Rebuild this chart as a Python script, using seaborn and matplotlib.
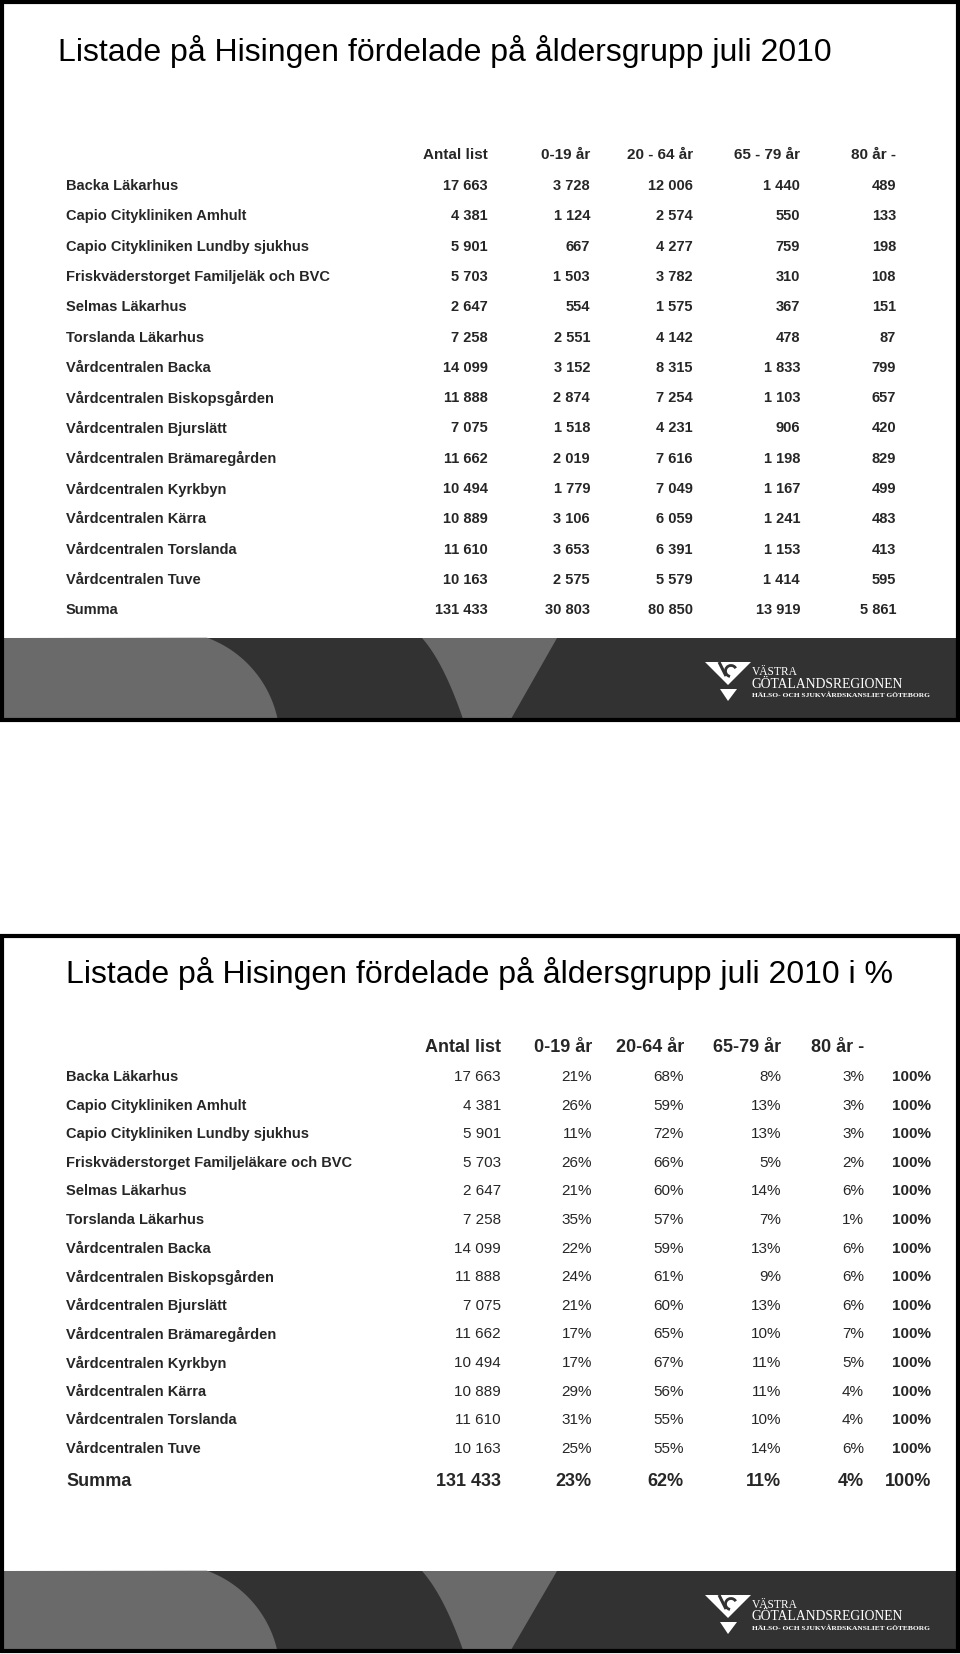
import numpy as np
import pandas as pd
import seaborn as sns
import matplotlib.pyplot as plt
from matplotlib.patches import Rectangle, Polygon, Arc

# Data

names_1 = ['Backa Läkarhus', 'Capio Citykliniken Amhult', 'Capio Citykliniken Lundby sjukhus',
           'Friskväderstorget Familjeläk och BVC', 'Selmas Läkarhus', 'Torslanda Läkarhus',
           'Vårdcentralen Backa', 'Vårdcentralen Biskopsgården', 'Vårdcentralen Bjurslätt',
           'Vårdcentralen Brämaregården', 'Vårdcentralen Kyrkbyn', 'Vårdcentralen Kärra',
           'Vårdcentralen Torslanda', 'Vårdcentralen Tuve']
names_2 = names_1[:3] + ['Friskväderstorget Familjeläkare och BVC'] + names_1[4:]

headers_1 = ['Antal list', '0-19 år', '20 - 64 år', '65 - 79 år', '80 år -']
headers_2 = ['Antal list', '0-19 år', '20-64 år', '65-79 år', '80 år -']

antal = [17663, 4381, 5901, 5703, 2647, 7258, 14099, 11888, 7075, 11662, 10494, 10889, 11610, 10163]
age_0_19 = [3728, 1124, 667, 1503, 554, 2551, 3152, 2874, 1518, 2019, 1779, 3106, 3653, 2575]
age_20_64 = [12006, 2574, 4277, 3782, 1575, 4142, 8315, 7254, 4231, 7616, 7049, 6059, 6391, 5579]
age_65_79 = [1440, 550, 759, 310, 367, 478, 1833, 1103, 906, 1198, 1167, 1241, 1153, 1414]
age_80 = [489, 133, 198, 108, 151, 87, 799, 657, 420, 829, 499, 483, 413, 595]

pct_0_19 = [21, 26, 11, 26, 21, 35, 22, 24, 21, 17, 17, 29, 31, 25]
pct_20_64 = [68, 59, 72, 66, 60, 57, 59, 61, 60, 65, 67, 56, 55, 55]
pct_65_79 = [8, 13, 13, 5, 14, 7, 13, 9, 13, 10, 11, 11, 10, 14]
pct_80 = [3, 3, 3, 2, 6, 1, 6, 6, 6, 7, 5, 4, 4, 6]
pct_summa = [23, 62, 11, 4]

counts = pd.DataFrame({'antal': antal, 'a0': age_0_19, 'a1': age_20_64,
                       'a2': age_65_79, 'a3': age_80}, index=names_1)
summa = counts.sum()


def fmt(v):
    return f'{int(v):,}'.replace(',', ' ')


sns.set_theme(style='white')
plt.rcParams['font.family'] = ['Liberation Sans', 'DejaVu Sans']

fig = plt.figure(figsize=(9.6, 16.54), dpi=100)
ax = fig.add_axes([0, 0, 1, 1])
ax.set_xlim(0, 960)
ax.set_ylim(1654, 0)
ax.axis('off')

LIGHT = '#6a6a6a'
DARK = '#323232'


def footer(top, bottom):
    h = bottom - top
    ax.add_patch(Rectangle((3, top), 954, h, color=DARK, lw=0, zorder=1))
    # left light area with curved edge
    ang = np.radians(np.linspace(-70, -12.5, 40))
    cx, cy, r = 169, top + 104, 111
    arc = np.column_stack([cx + r * np.cos(ang), cy + r * np.sin(ang)])
    pts = np.vstack([[3, top], arc, [3, bottom]])
    ax.add_patch(Polygon(pts, closed=True, color=LIGHT, lw=0, zorder=2))
    # middle light wedge
    t = np.linspace(0, 1, 30)[:, None]
    p0, c, p2 = np.array([422, top]), np.array([443.5, top + 24]), np.array([463, bottom])
    bez = (1 - t) ** 2 * p0 + 2 * (1 - t) * t * c + t ** 2 * p2
    pts = np.vstack([bez, [511, bottom], [557, top]])
    ax.add_patch(Polygon(pts, closed=True, color=LIGHT, lw=0, zorder=2))
    # logo symbol
    ax.add_patch(Polygon([[705, top + 24], [751, top + 24], [728, top + 47]],
                         color='white', lw=0, zorder=3))
    ax.plot([719, 726], [top + 24, top + 38], color=DARK, lw=2.2, zorder=4,
            solid_capstyle='butt')
    ax.add_patch(Arc((731, top + 33), 11, 11, theta1=100, theta2=330, color=DARK,
                     lw=2.0, zorder=4))
    ax.add_patch(Polygon([[720, top + 51], [737, top + 51], [728, top + 63]],
                         color='white', lw=0, zorder=3))
    serif = ['Liberation Serif', 'DejaVu Serif']
    ax.text(752, top + 34, 'VÄSTRA', color='white', fontsize=8.3, family=serif,
            va='center', zorder=5)
    ax.text(752, top + 46, 'GÖTALANDSREGIONEN', color='white', fontsize=9.8, family=serif,
            va='center', zorder=5)
    ax.text(752, top + 57, 'HÄLSO- OCH SJUKVÅRDSKANSLIET GÖTEBORG', color='white',
            fontsize=5.4, family=serif, fontweight='bold', va='center', zorder=5)


# ---------- slide 1 ----------
ax.add_patch(Rectangle((2, 2), 956, 718, fill=False, ec='black', lw=3, zorder=6))
footer(638, 719)
ax.text(58, 51, 'Listade på Hisingen fördelade på åldersgrupp juli 2010', fontsize=23,
        va='center', color='black')

col_x1 = [488, 590, 693, 800, 896]
for x, h in zip(col_x1, headers_1):
    ax.text(x, 155, h, ha='right', va='center', fontsize=11, fontweight='bold')

row_y1 = 186 + 30.3 * np.arange(len(names_1))
cols = ['antal', 'a0', 'a1', 'a2', 'a3']
for y, name in zip(row_y1, names_1):
    ax.text(66, y, name, va='center', fontsize=10.5, fontweight='bold')
    for x, col in zip(col_x1, cols):
        ax.text(x, y, fmt(counts.loc[name, col]), ha='right', va='center',
                fontsize=10.5, fontweight='bold')
ax.text(66, 610, 'Summa', va='center', fontsize=10.5, fontweight='bold')
for x, col in zip(col_x1, cols):
    ax.text(x, 610, fmt(summa[col]), ha='right', va='center', fontsize=10.5, fontweight='bold')

# ---------- slide 2 ----------
ax.add_patch(Rectangle((2, 936), 956, 715, fill=False, ec='black', lw=3, zorder=6))
footer(1571, 1650)
ax.text(66, 974, 'Listade på Hisingen fördelade på åldersgrupp juli 2010 i %', fontsize=23,
        va='center', color='black')

col_x2 = [501, 592, 684, 781, 864]
x_total = 931
for x, h in zip(col_x2, headers_2):
    ax.text(x, 1047, h, ha='right', va='center', fontsize=13, fontweight='bold')

row_y2 = 1077 + 28.6 * np.arange(len(names_2))
pcts = list(zip(pct_0_19, pct_20_64, pct_65_79, pct_80))
for i, (y, name) in enumerate(zip(row_y2, names_2)):
    ax.text(66, y, name, va='center', fontsize=10.5, fontweight='bold')
    ax.text(col_x2[0], y, fmt(antal[i]), ha='right', va='center', fontsize=11)
    for x, p in zip(col_x2[1:], pcts[i]):
        ax.text(x, y, f'{p}%', ha='right', va='center', fontsize=11)
    ax.text(x_total, y, '100%', ha='right', va='center', fontsize=11, fontweight='bold')

ax.text(66, 1481, 'Summa', va='center', fontsize=13, fontweight='bold')
ax.text(col_x2[0], 1481, fmt(summa['antal']), ha='right', va='center', fontsize=13,
        fontweight='bold')
for x, p in zip(col_x2[1:], pct_summa):
    ax.text(x, 1481, f'{p}%', ha='right', va='center', fontsize=13, fontweight='bold')
ax.text(x_total, 1481, '100%', ha='right', va='center', fontsize=13, fontweight='bold')

fig.savefig('out.png', dpi=100, facecolor='white')
